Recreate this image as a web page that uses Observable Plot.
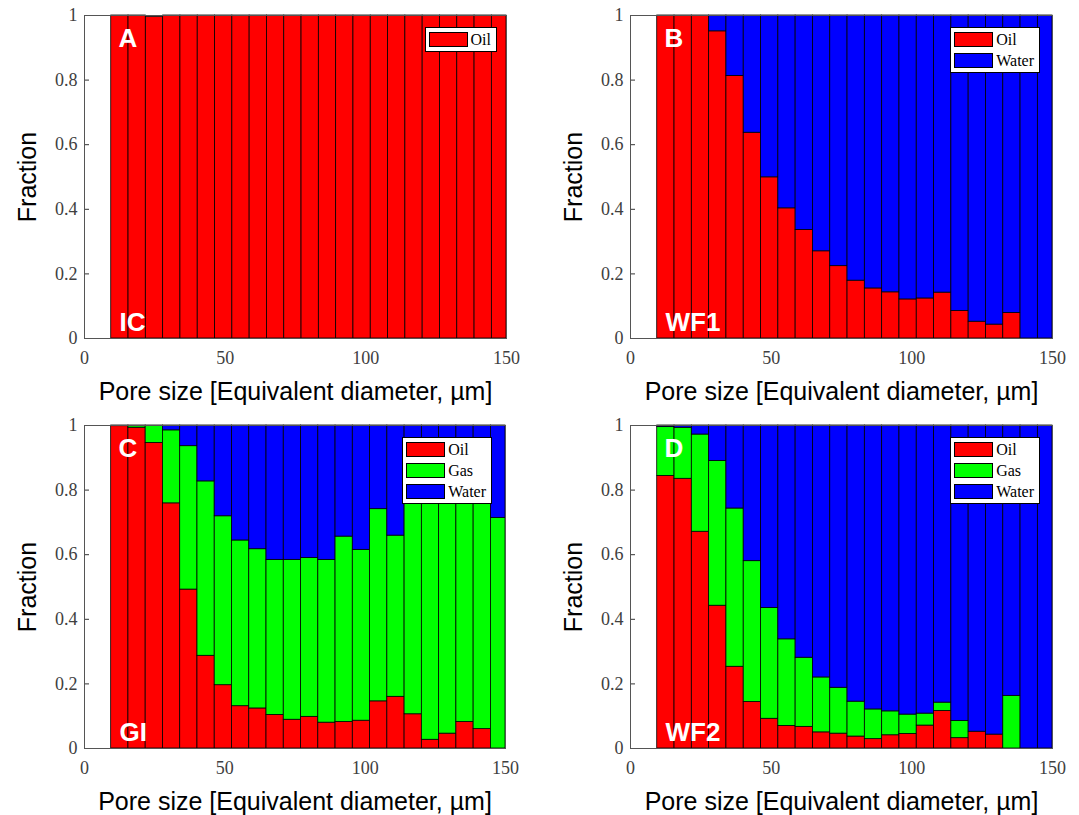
<!DOCTYPE html>
<html>
<head>
<meta charset="utf-8">
<script src="https://cdn.jsdelivr.net/npm/d3@7"></script>
<script src="https://cdn.jsdelivr.net/npm/@observablehq/plot@0.6"></script>
<style>
  body { margin: 0; background: #fff; }
  #root { position: relative; width: 1079px; height: 815px; overflow: hidden; }
  .panel { position: absolute; }
  .panel svg { display: block; }
  .legend { position: absolute; background: #fff; border: 1px solid #000; padding: 1px 5px 1px 3px;
            font-family: "Liberation Serif", "Times New Roman", serif; font-size: 16px; color: #000; }
  .row { display: flex; align-items: center; height: 21px; }
  .sw { width: 37px; height: 13px; border: 1px solid #000; margin-right: 3px; }
</style>
</head>
<body>
<div id="root"></div>
<script>
// ---------- data ----------
const phases = ["Oil", "Gas", "Water"];
const phaseColors = ["#ff0000", "#00ff00", "#0000ff"];
const xTicks = [0, 50, 100, 150];
const yTicks = [0, 0.2, 0.4, 0.6, 0.8, 1];
const xLabel = "Pore size [Equivalent diameter, µm]";
const yLabel = "Fraction";

// bin edges (µm)
const binEdges = [9.5, 15.65, 21.8, 27.95, 34.1, 40.25, 46.4, 52.55, 58.7, 64.85, 71.0, 77.15,
  83.3, 89.45, 95.6, 101.75, 107.9, 114.05, 120.2, 126.35, 132.5, 138.65, 144.8, 150];

// A: IC
const icOil = [1, 1, 0.995, 1, 1, 1, 1, 1, 1, 1, 1, 1, 1, 1, 1, 1, 1, 1, 1, 1, 1, 1, 1];

// B: WF1
const wf1Oil   = [1, 1, 1, 0.951, 0.813, 0.637, 0.499, 0.403, 0.336, 0.270, 0.224, 0.179,
  0.155, 0.143, 0.121, 0.124, 0.142, 0.085, 0.052, 0.043, 0.079, 0, 0];
const wf1Water = [0, 0, 0, 0.049, 0.187, 0.363, 0.501, 0.597, 0.664, 0.730, 0.776, 0.821,
  0.845, 0.857, 0.879, 0.876, 0.858, 0.915, 0.948, 0.957, 0.921, 1, 1];

// C: GI
const giOil   = [0.998, 0.993, 0.946, 0.759, 0.492, 0.287, 0.196, 0.131, 0.124, 0.104, 0.089, 0.098,
  0.080, 0.082, 0.086, 0.146, 0.160, 0.106, 0.027, 0.046, 0.082, 0.060, 0];
const giGas   = [0, 0.005, 0.054, 0.226, 0.444, 0.540, 0.523, 0.513, 0.493, 0.480, 0.495, 0.492,
  0.504, 0.574, 0.529, 0.595, 0.499, 0.694, 0.813, 0.814, 0.748, 0.760, 0.714];
const giWater = [0.002, 0.002, 0, 0.015, 0.064, 0.173, 0.281, 0.356, 0.383, 0.416, 0.416, 0.410,
  0.416, 0.344, 0.385, 0.259, 0.341, 0.200, 0.160, 0.140, 0.170, 0.180, 0.286];

// D: WF2
const wf2Oil   = [0.844, 0.835, 0.671, 0.442, 0.253, 0.144, 0.092, 0.070, 0.067, 0.050, 0.046, 0.037,
  0.029, 0.041, 0.045, 0.071, 0.116, 0.032, 0.052, 0.043, 0, 0, 0];
const wf2Gas   = [0.151, 0.158, 0.301, 0.448, 0.490, 0.436, 0.343, 0.268, 0.214, 0.170, 0.142, 0.108,
  0.092, 0.074, 0.060, 0.037, 0.026, 0.053, 0, 0, 0.163, 0, 0];
const wf2Water = [0.005, 0.007, 0.028, 0.110, 0.257, 0.420, 0.565, 0.662, 0.719, 0.780, 0.812, 0.855,
  0.879, 0.885, 0.895, 0.892, 0.858, 0.915, 0.948, 0.957, 0.837, 1, 1];

const panels = [
  {letter: "A", name: "IC",  series: {Oil: icOil}, legend: ["Oil"]},
  {letter: "B", name: "WF1", series: {Oil: wf1Oil, Water: wf1Water}, legend: ["Oil", "Water"]},
  {letter: "C", name: "GI",  series: {Oil: giOil, Gas: giGas, Water: giWater}, legend: ["Oil", "Gas", "Water"]},
  {letter: "D", name: "WF2", series: {Oil: wf2Oil, Gas: wf2Gas, Water: wf2Water}, legend: ["Oil", "Gas", "Water"]}
];

// ---------- layout (style only) ----------
const layout = [
  {left: 0,   top: 0,   width: 540, height: 412, mr: 34, mb: 74, legRight: 9},
  {left: 546, top: 0,   width: 533, height: 412, mr: 27, mb: 74, legRight: 12},
  {left: 0,   top: 410, width: 540, height: 405, mr: 35, mb: 67, legRight: 13},
  {left: 546, top: 410, width: 533, height: 405, mr: 27, mb: 67, legRight: 12}
];
const ML = 84, MT = 15;
const serif = "'Liberation Serif', 'Times New Roman', serif";
const sans = "'Liberation Sans', Arial, sans-serif";
const root = document.getElementById("root");

panels.forEach((p, k) => {
  const L = layout[k];
  const pw = L.width - ML - L.mr;
  const ph = L.height - MT - L.mb;

  // stacked rows
  const rows = [];
  for (let i = 0; i < binEdges.length - 1; i++) {
    let acc = 0;
    for (const ph_ of phases) {
      const vals = p.series[ph_];
      if (!vals) continue;
      const v = vals[i];
      if (v > 0) rows.push({phase: ph_, x1: binEdges[i], x2: binEdges[i + 1], y1: acc, y2: acc + v});
      acc += v;
    }
  }

  const chart = Plot.plot({
    width: L.width, height: L.height,
    marginLeft: ML, marginRight: L.mr, marginTop: MT, marginBottom: L.mb,
    x: {domain: [0, 150]},
    y: {domain: [0, 1]},
    color: {domain: phases, range: phaseColors},
    style: {fontFamily: serif, fontSize: "18px", background: "#fff", color: "#404040", overflow: "visible"},
    marks: [
      Plot.tickX(xTicks, {x: d => d, insetTop: ph - 5, stroke: "#333"}),
      Plot.tickX(xTicks, {x: d => d, insetBottom: ph - 5, stroke: "#333"}),
      Plot.tickY(yTicks, {y: d => d, insetRight: pw - 5, stroke: "#333"}),
      Plot.tickY(yTicks, {y: d => d, insetLeft: pw - 5, stroke: "#333"}),
      Plot.rect(rows, {x1: "x1", x2: "x2", y1: "y1", y2: "y2", fill: "phase", stroke: "#000", strokeWidth: 0.8}),
      Plot.frame({stroke: "#555", strokeWidth: 1}),
      Plot.axisX(xTicks, {tickSize: 0, tickPadding: 13, tickFormat: d => String(d), label: null,
        color: "#404040", fontFamily: serif, fontSize: 18}),
      Plot.axisY(yTicks, {tickSize: 0, tickPadding: 7, tickFormat: d => String(d), label: null,
        color: "#404040", fontFamily: serif, fontSize: 18}),
      Plot.text([p.letter], {frameAnchor: "top-left", dx: 34, dy: 13, lineAnchor: "top", textAnchor: "start",
        fill: "#fff", fontWeight: "bold", fontSize: 26, fontFamily: sans}),
      Plot.text([p.name], {frameAnchor: "bottom-left", dx: 35, dy: -8, lineAnchor: "bottom", textAnchor: "start",
        fill: "#fff", fontWeight: "bold", fontSize: 26, fontFamily: sans}),
      Plot.text([xLabel], {frameAnchor: "bottom", dy: 61, lineAnchor: "bottom", textAnchor: "middle",
        fill: "#000", fontSize: 25, fontFamily: sans}),
      Plot.text([yLabel], {frameAnchor: "left", dx: -49, rotate: -90, lineAnchor: "bottom", textAnchor: "middle",
        fill: "#000", fontSize: 25, fontFamily: sans})
    ]
  });

  const wrap = document.createElement("div");
  wrap.className = "panel";
  wrap.style.left = L.left + "px";
  wrap.style.top = L.top + "px";
  wrap.style.width = L.width + "px";
  wrap.style.height = L.height + "px";
  wrap.appendChild(chart);

  const leg = document.createElement("div");
  leg.className = "legend";
  leg.style.right = (L.mr + L.legRight) + "px";
  leg.style.top = (MT + 12) + "px";
  p.legend.forEach(name => {
    const r = document.createElement("div");
    r.className = "row";
    const sw = document.createElement("div");
    sw.className = "sw";
    sw.style.background = phaseColors[phases.indexOf(name)];
    const t = document.createElement("span");
    t.textContent = name;
    r.appendChild(sw); r.appendChild(t);
    leg.appendChild(r);
  });
  wrap.appendChild(leg);
  root.appendChild(wrap);
});
</script>
</body>
</html>
